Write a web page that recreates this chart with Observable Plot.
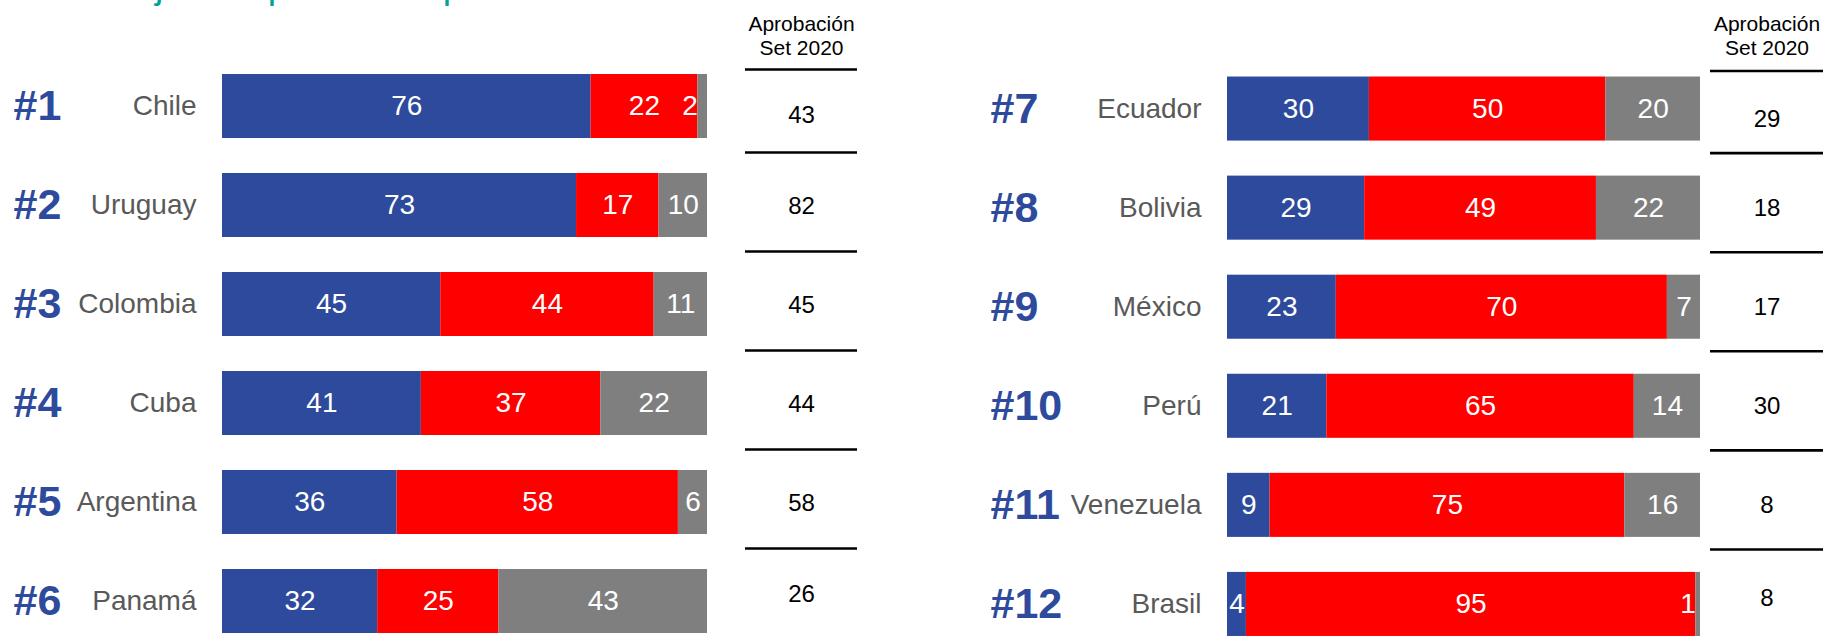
<!DOCTYPE html>
<html>
<head>
<meta charset="utf-8">
<script src="https://cdn.jsdelivr.net/npm/d3@7"></script>
<script src="https://cdn.jsdelivr.net/npm/@observablehq/plot@0.6"></script>
<style>
  html, body { margin: 0; padding: 0; background: #fff; }
  #root { position: relative; width: 1824px; height: 636px; overflow: hidden;
          font-family: "Liberation Sans", Arial, sans-serif; background: #fff; }
  #title { position: absolute; left: 5px; top: -32.7px; font-size: 37.5px; line-height: 37.5px;
           color: #00A19A; white-space: nowrap; }
  .panel { position: absolute; top: 0; height: 636px; }
  .panel svg { display: block; max-width: none !important; }
</style>
</head>
<body>
<div id="root">
  <div id="title">Porcentaje de aprobación por Gobierno</div>
</div>
<script>
// ---------- data ----------
const seriesNames = ["Aprueba", "Desaprueba", "NS/NR"];
const seriesColors = ["#2E4A9C", "#FF0000", "#7F7F7F"];
const headerText = "Aprobación\nSet 2020";

const leftRanks = ["#1", "#2", "#3", "#4", "#5", "#6"];
const leftCountries = ["Chile", "Uruguay", "Colombia", "Cuba", "Argentina", "Panamá"];
const leftApprove = [76, 73, 45, 41, 36, 32];
const leftDisapprove = [22, 17, 44, 37, 58, 25];
const leftNoAnswer = [2, 10, 11, 22, 6, 43];
const leftApproval2020 = [43, 82, 45, 44, 58, 26];

const rightRanks = ["#7", "#8", "#9", "#10", "#11", "#12"];
const rightCountries = ["Ecuador", "Bolivia", "México", "Perú", "Venezuela", "Brasil"];
const rightApprove = [30, 29, 23, 21, 9, 4];
const rightDisapprove = [50, 49, 70, 65, 75, 95];
const rightNoAnswer = [20, 22, 7, 14, 16, 1];
const rightApproval2020 = [29, 18, 17, 30, 8, 8];

// ---------- helpers ----------
const FONT = "'Liberation Sans', Arial, sans-serif";
const BLUE = "#2E4A9C";
const PAD = 0.3535;

function tidy(countries, a, d, n) {
  const out = [];
  countries.forEach((c, i) => {
    [a, d, n].forEach((arr, k) => out.push({country: c, series: seriesNames[k], value: arr[i]}));
  });
  return out;
}
function rowsOf(countries, ranks, approval) {
  return countries.map((c, i) => ({country: c, rank: ranks[i], approval: approval[i]}));
}

function barsPlot({countries, ranks, a, d, n, width, marginLeft, marginRight, yRange, rankDx}) {
  const rows = tidy(countries, a, d, n);
  const labels = rowsOf(countries, ranks, []);
  return Plot.plot({
    width, height: 636, marginLeft, marginRight, marginTop: 0, marginBottom: 0,
    style: {fontFamily: FONT, background: "transparent", overflow: "visible"},
    x: {domain: [0, 100], axis: null},
    y: {domain: countries, range: yRange, padding: PAD, round: false},
    color: {domain: seriesNames, range: seriesColors},
    marks: [
      Plot.barX(rows, {x: "value", y: "country", z: "series", fill: "series"}),
      Plot.text(rows, Plot.stackX({x: "value", y: "country", z: "series",
        text: dd => dd.value >= 3 ? String(dd.value) : "", fill: "white", fontSize: 28})),
      Plot.text(rows, Plot.stackX1({x: "value", y: "country", z: "series",
        text: dd => dd.value < 3 ? String(dd.value) : "", fill: "white", fontSize: 28, textAnchor: "end"})),
      Plot.axisY({tickSize: 0, tickPadding: 26, fontSize: 28, color: "#595959", label: null}),
      Plot.text(labels, {y: "country", text: "rank", frameAnchor: "left", dx: rankDx,
        textAnchor: "start", fontSize: 43, fontWeight: "bold", fill: BLUE})
    ]
  });
}

function approvalPlot({countries, approval, width, yRange, ruleFirstDy, ruleDy, valDy}) {
  const rows = rowsOf(countries, countries, approval);
  const common = {y: "country", text: "approval", frameAnchor: "middle", fontSize: 24, fill: "#000"};
  return Plot.plot({
    width, height: 636, margin: 0,
    style: {fontFamily: FONT, background: "transparent", overflow: "visible"},
    x: {domain: [0, 1], axis: null},
    y: {type: "band", domain: countries, range: yRange, padding: PAD, round: false, axis: null},
    marks: [
      Plot.ruleY(rows.slice(0, 1), {y: "country", dy: ruleFirstDy, stroke: "#000", strokeWidth: 2.6}),
      Plot.ruleY(rows.slice(1), {y: "country", dy: ruleDy, stroke: "#000", strokeWidth: 2.6}),
      Plot.text(rows.slice(0, 1), {...common, dy: valDy[0]}),
      Plot.text(rows.slice(1, -1), {...common, dy: valDy[1]}),
      Plot.text(rows.slice(-1), {...common, dy: valDy[2]}),
      Plot.text([headerText], {frameAnchor: "top", dy: 13, lineAnchor: "top", fontSize: 21,
        lineHeight: 1.143, fill: "#000"})
    ]
  });
}

function place(node, left, width) {
  const div = document.createElement("div");
  div.className = "panel";
  div.style.left = left + "px";
  div.style.width = width + "px";
  div.appendChild(node);
  document.getElementById("root").appendChild(div);
}

// ---------- left panel ----------
const leftRange = [39, 668];
place(barsPlot({countries: leftCountries, ranks: leftRanks, a: leftApprove, d: leftDisapprove,
  n: leftNoAnswer, width: 740, marginLeft: 222, marginRight: 33, yRange: leftRange, rankDx: -209}), 0, 740);
place(approvalPlot({countries: leftCountries, approval: leftApproval2020, width: 112, yRange: leftRange,
  ruleFirstDy: -37, ruleDy: -53, valDy: [9, 1, -7]}), 745, 112);

// ---------- right panel ----------
const rightRange = [41.5, 671];
place(barsPlot({countries: rightCountries, ranks: rightRanks, a: rightApprove, d: rightDisapprove,
  n: rightNoAnswer, width: 793, marginLeft: 315, marginRight: 5, yRange: rightRange, rankDx: -237}), 912, 793);
place(approvalPlot({countries: rightCountries, approval: rightApproval2020, width: 113, yRange: rightRange,
  ruleFirstDy: -38, ruleDy: -55, valDy: [10, 0, -6]}), 1710, 113);
</script>
</body>
</html>
